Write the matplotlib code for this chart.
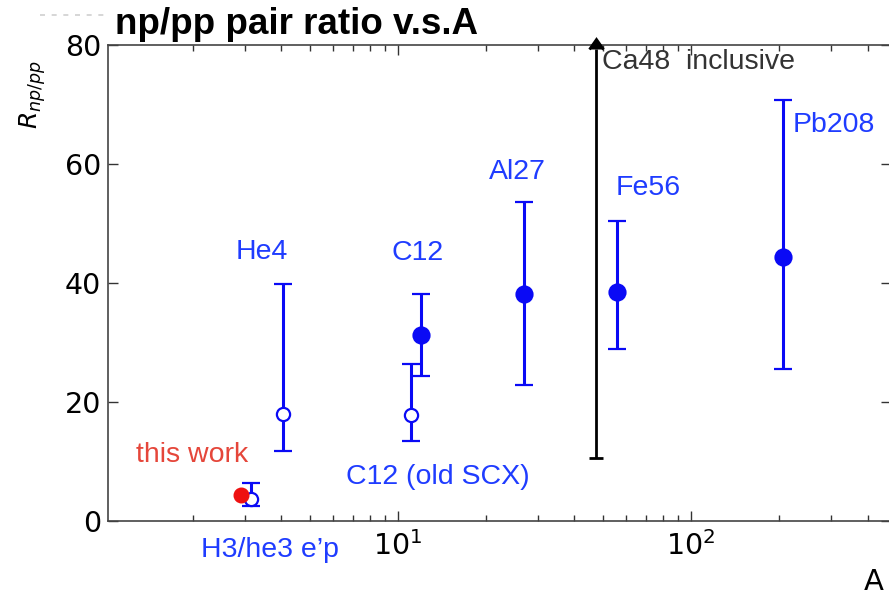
import numpy as np
import matplotlib
matplotlib.use("Agg")
import matplotlib.pyplot as plt
from matplotlib.lines import Line2D

# np/pp pair ratio versus mass number A
labels = ["H3/he3 e\u2019p", "He4", "C12 (old SCX)", "C12", "Al27", "Fe56", "Pb208"]
mass = np.array([3.15, 4.05, 11.07, 12.0, 27.0, 56.0, 206.0])
ratio = np.array([3.7, 18.0, 17.8, 31.3, 38.2, 38.5, 44.4])
ratio_lo = np.array([2.5, 11.8, 13.4, 24.4, 22.9, 28.9, 25.5])
ratio_hi = np.array([6.4, 39.8, 26.4, 38.2, 53.6, 50.4, 70.8])
open_marker = np.array([True, True, True, False, False, False, False])

# label placement (data coords, centred)
label_x = [3.66, 3.43, 13.7, 11.7, 25.5, 71.3, 307.7]
label_y = [-4.9, 45.2, 7.4, 45.0, 58.7, 56.0, 66.6]

# Ca48 inclusive: lower limit only
ca_mass = 47.5
ca_lo = 10.6
ca_hi = 79.3

# this work
this_mass = 2.91
this_ratio = 4.3

BAR_BLUE = "#0a0af5"
TEXT_BLUE = "#1f3cff"

fig = plt.figure(figsize=(8.89, 5.96), dpi=100)
ax = fig.add_axes([108 / 889, 75 / 596, 783 / 889, 476 / 596])
ax.set_xscale("log")
ax.set_xlim(1.024, 481)
ax.set_ylim(0, 80)

for i in range(len(mass)):
    err = [[ratio[i] - ratio_lo[i]], [ratio_hi[i] - ratio[i]]]
    face = "white" if open_marker[i] else BAR_BLUE
    ms = 9.5 if open_marker[i] else 11.5
    ax.errorbar([mass[i]], [ratio[i]], yerr=err, fmt="o", color=BAR_BLUE,
                mfc=face, mec=BAR_BLUE, mew=1.6, ms=ms, elinewidth=2.2,
                capsize=6.5, capthick=2.2, zorder=3)
    ax.text(label_x[i], label_y[i], labels[i], color=TEXT_BLUE, fontsize=20.5,
            family="Liberation Sans", ha="center", va="center", clip_on=False)

ca = ax.errorbar([ca_mass], [ca_lo], yerr=[[0], [ca_hi - ca_lo]], lolims=True,
                 fmt="none", ecolor="black", elinewidth=2.0, capsize=5,
                 capthick=2.0, zorder=3)
for cl in ca[1]:
    cl.set_clip_on(False)
    cl.set_color("black")
ax.text(105.6, 77.1, "Ca48  inclusive", color="#333333", fontsize=20.5,
        family="Liberation Sans", ha="center", va="center")

ax.plot([this_mass], [this_ratio], "o", color="#ee1111", ms=10.5, zorder=4)
ax.text(1.98, 11.1, "this work", color="#e5463a", fontsize=20.5,
        family="Liberation Sans", ha="center", va="center")

ax.set_yticks([0, 20, 40, 60, 80])
ax.tick_params(which="both", direction="in", top=True, right=True,
               colors="#333333", labelcolor="black", labelsize=20.5)
ax.tick_params(which="major", length=7, width=1.0)
ax.tick_params(axis="y", which="major", pad=5)
ax.tick_params(axis="x", which="major", pad=7)
ax.tick_params(which="minor", length=4, width=1.0)
for sp in ax.spines.values():
    sp.set_color("#444444")
    sp.set_linewidth(1.2)

fig.text(884 / 889, 1 - 582 / 596, "A", fontsize=21, ha="right", va="center")

fig.text(33 / 889, 1 - 95 / 596, r"$R_{np/pp}$", rotation=90, fontsize=18,
         ha="center", va="center")
fig.text(115 / 889, 1 - 25 / 596, "np/pp pair ratio v.s.A", fontsize=26.5,
         fontweight="bold", family="Liberation Sans", ha="left", va="center")
fig.add_artist(Line2D([40 / 889, 106 / 889], [1 - 15 / 596, 1 - 15 / 596],
                      transform=fig.transFigure, color="#d0d0d0", lw=1.2,
                      linestyle=(0, (3, 4))))

fig.savefig("out.png", dpi=100)
